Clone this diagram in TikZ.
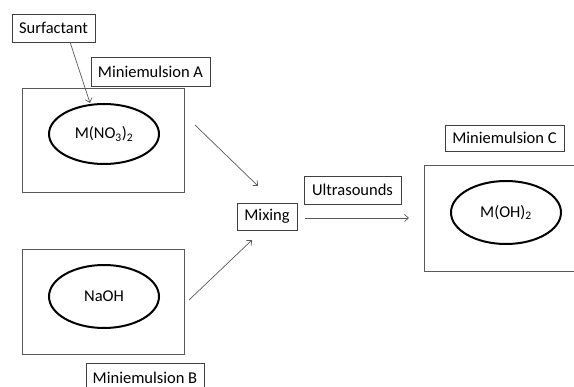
\documentclass[tikz,border=0pt]{standalone}
\usepackage{fontspec}
\setmainfont{Carlito}
\usetikzlibrary{arrows.meta,shapes.geometric}
\begin{document}
\begin{tikzpicture}[x=1pt,y=-1pt,
  lbl/.style={draw=black!75,line width=0.7pt,rectangle,inner sep=0pt,font=\fontsize{16.5}{19}\selectfont},
  frame/.style={draw=black!65,line width=0.8pt,rectangle,inner sep=0pt},
  blob/.style={draw=black,line width=2pt,ellipse,inner sep=0pt,font=\fontsize{16.5}{19}\selectfont},
  arr/.style={draw=black!65,line width=0.7pt,-{Straight Barb[length=4pt,width=7pt]}}]
\useasboundingbox (0,0) rectangle (574,387);
\clip (0,0) rectangle (574,387);
\node[frame,minimum width=162pt,minimum height=104pt] (boxA) at (103,140) {};
\node[blob,minimum width=110pt,minimum height=60pt] (ellA) at (104,134) {M(NO\textsubscript{3})\textsubscript{2}};
\node[lbl,minimum width=83pt,minimum height=28pt] (surf) at (53.5,28) {Surfactant};
\node[lbl,minimum width=119pt,minimum height=29pt] (minA) at (150.5,71.5) {Miniemulsion A};
\node[frame,minimum width=162pt,minimum height=105pt] (boxB) at (103,301.5) {};
\node[blob,minimum width=110pt,minimum height=63pt] (ellB) at (104,296.5) {NaOH};
\node[lbl,minimum width=118pt,minimum height=30pt] (minB) at (145,378) {Miniemulsion B};
\node[lbl,minimum width=60pt,minimum height=27pt] (mix) at (267,216.5) {Mixing};
\node[lbl,minimum width=97pt,minimum height=28pt] (ultra) at (352.5,190) {Ultrasounds};
\node[lbl,minimum width=119pt,minimum height=26pt] (minC) at (504.5,138) {Miniemulsion C};
\node[frame,minimum width=160pt,minimum height=106pt] (boxC) at (504,218) {};
\node[blob,minimum width=110pt,minimum height=63pt] (ellC) at (506,212.5) {M(OH)\textsubscript{2}};
\coordinate (s1) at (70,42);
\coordinate (s2) at (90,103);
\coordinate (a1) at (195,125);
\coordinate (a2) at (258,186);
\coordinate (b1) at (189,300);
\coordinate (b2) at (252,240);
\coordinate (m1) at (305,218);
\coordinate (m2) at (409,218);
\draw[arr] (s1) -- (s2);
\draw[arr] (a1) -- (a2);
\draw[arr] (b1) -- (b2);
\draw[arr] (m1) -- (m2);
\end{tikzpicture}
\end{document}
